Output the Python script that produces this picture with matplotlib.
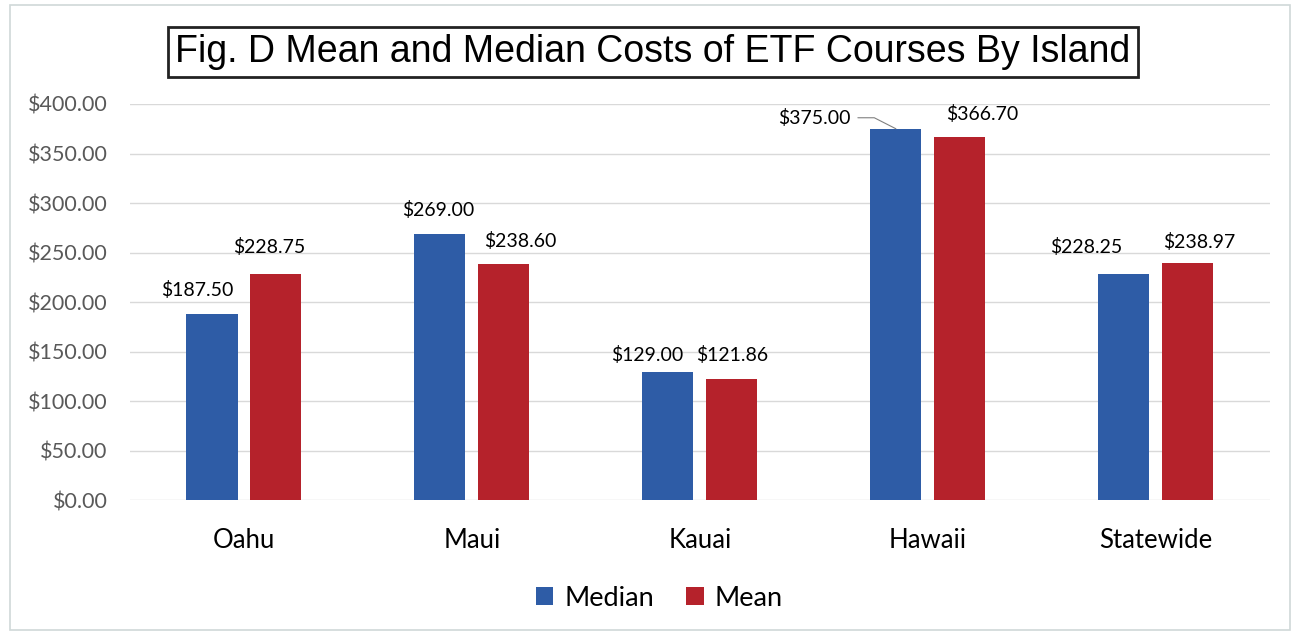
import numpy as np
import matplotlib.pyplot as plt
from matplotlib.patches import Rectangle

islands = ["Oahu", "Maui", "Kauai", "Hawaii", "Statewide"]
median = [187.50, 269.00, 129.00, 375.00, 228.25]
mean = [228.75, 238.60, 121.86, 366.70, 238.97]
yticks = [0, 50, 100, 150, 200, 250, 300, 350, 400]

blue = "#2e5ca6"
red = "#b5222b"
font = "Lato"

# label offsets in pixels (dx, dy), Excel nudged a few of them
med_off = [(-15, 24), (-2, 24), (-21, 17), (None, None), (-38, 27)]
mean_off = [(-7, 27), (17, 23), (0, 24), (23, 23), (12, 21)]

fig = plt.figure(figsize=(12.93, 6.38), dpi=100)
ax = fig.add_axes([0.1005, 0.216, 0.8815, 0.621])

x = np.arange(len(islands))
w = 0.224
off = 0.14
ax.bar(x - off, median, w, color=blue, label="Median", zorder=3)
ax.bar(x + off, mean, w, color=red, label="Mean", zorder=3)

ax.set_xlim(-0.5, len(islands) - 0.5)
ax.set_ylim(0, 400)
ax.set_yticks(yticks)
ax.set_yticklabels([f"${v:.2f}" for v in yticks], fontsize=15.5, color="#595959", family=font)
ax.set_xticks(x)
ax.set_xticklabels(islands, fontsize=18.5, color="black", family=font)
ax.tick_params(length=0)
ax.tick_params(axis="y", pad=16)
ax.tick_params(axis="x", pad=20)
ax.grid(axis="y", color="#d9d9d9", linewidth=1, zorder=0)
for s in ax.spines.values():
    s.set_visible(False)

for i in range(len(islands)):
    dx, dy = med_off[i]
    if dx is None:
        continue
    ax.annotate(f"${median[i]:.2f}", (x[i] - off, median[i]), xytext=(dx, dy),
                textcoords="offset pixels", ha="center", va="center",
                fontsize=14, family=font)
for i in range(len(islands)):
    dx, dy = mean_off[i]
    ax.annotate(f"${mean[i]:.2f}", (x[i] + off, mean[i]), xytext=(dx, dy),
                textcoords="offset pixels", ha="center", va="center",
                fontsize=14, family=font)

# Hawaii median label with leader line
hi = islands.index("Hawaii")
ax.annotate(f"${median[hi]:.2f}", (x[hi] - off, median[hi]), xytext=(-82, 11),
            textcoords="offset pixels", ha="center", va="center",
            fontsize=14, family=font)
ax.annotate("", (x[hi] - off, median[hi]), xytext=(-38, 11),
            textcoords="offset pixels",
            arrowprops=dict(arrowstyle="-", color="#808080", lw=0.8, shrinkA=0, shrinkB=0,
                            connectionstyle="angle,angleA=0,angleB=153,rad=0"))

leg = fig.legend(loc="center", bbox_to_anchor=(0.51, 0.062), ncol=2, frameon=False,
                 prop={"family": font, "size": 19.5}, handlelength=0.65, handleheight=0.65,
                 handletextpad=0.4, columnspacing=1.2)

fig.text(0.505, 0.918, "Fig. D Mean and Median Costs of ETF Courses By Island",
         ha="center", va="center", fontsize=27, family="Liberation Sans",
         bbox=dict(facecolor="white", edgecolor="#222222", linewidth=2, pad=5))

fig.patches.append(Rectangle((0.008, 0.012), 0.99, 0.98, transform=fig.transFigure,
                             fill=False, edgecolor="#d0d8d8", linewidth=1.2))

fig.savefig("out.png", dpi=100)
